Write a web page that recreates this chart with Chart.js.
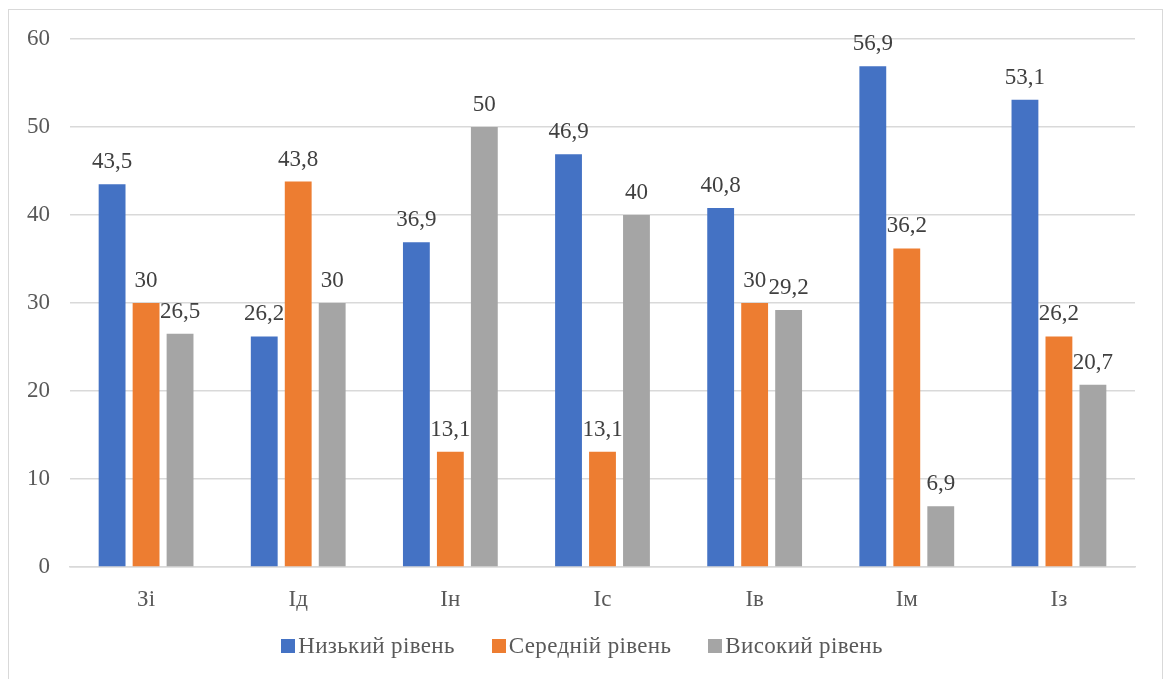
<!DOCTYPE html>
<html>
<head>
<meta charset="utf-8">
<script src="https://cdn.jsdelivr.net/npm/chart.js@4.4.1/dist/chart.umd.min.js"></script>
<style>
  html, body { margin: 0; padding: 0; background: #fff; overflow: hidden; }
  #frame {
    position: absolute; left: 8px; top: 9px; width: 1153px; height: 700px;
    border: 1.5px solid #d9d9d9;
  }
  #wrap { position: absolute; left: 0; top: 0; width: 1164px; height: 679px; }
  #legend {
    position: absolute; left: 0; top: 633px; width: 1164px;
    display: flex; justify-content: center; gap: 37px;
    font: 23px 'Liberation Serif', 'Times New Roman', serif; color: #595959;
    letter-spacing: 0.35px;
  }
  #legend .item { display: flex; align-items: center; }
  #legend .box { width: 14px; height: 14px; margin-right: 3px; }
</style>
</head>
<body>
<div id="frame"></div>
<div id="wrap"><canvas id="chart" width="1164" height="679"></canvas></div>
<div id="legend"></div>
<script>
// --- DATA ---
const categories = ['Зі', 'Ід', 'Ін', 'Іс', 'Ів', 'Ім', 'Із'];
const lowLevel = [43.5, 26.2, 36.9, 46.9, 40.8, 56.9, 53.1];
const midLevel = [30, 43.8, 13.1, 13.1, 30, 36.2, 26.2];
const highLevel = [26.5, 30, 50, 40, 29.2, 6.9, 20.7];
const seriesNames = ['Низький рівень', 'Середній рівень', 'Високий рівень'];
const seriesColors = ['#4472c4', '#ed7d31', '#a5a5a5'];
const yTicks = [0, 10, 20, 30, 40, 50, 60];

const FONT = "'Liberation Serif', 'Times New Roman', serif";

// Draw value labels above each bar (decimal comma, like the original)
const valueLabels = {
    id: 'valueLabels',
    afterDatasetsDraw(chart) {
        const ctx = chart.ctx;
        ctx.save();
        ctx.font = '23px ' + FONT;
        ctx.fillStyle = '#404040';
        ctx.textAlign = 'center';
        ctx.textBaseline = 'alphabetic';
        chart.data.datasets.forEach((ds, i) => {
            chart.getDatasetMeta(i).data.forEach((bar, j) => {
                const txt = String(ds.data[j]).replace('.', ',');
                ctx.fillText(txt, bar.x, bar.y - 16);
            });
        });
        ctx.restore();
    }
};

const chart = new Chart(document.getElementById('chart'), {
    type: 'bar',
    data: {
        labels: categories,
        datasets: [
            { label: seriesNames[0], data: lowLevel, backgroundColor: seriesColors[0] },
            { label: seriesNames[1], data: midLevel, backgroundColor: seriesColors[1] },
            { label: seriesNames[2], data: highLevel, backgroundColor: seriesColors[2] }
        ]
    },
    options: {
        responsive: false,
        animation: false,
        events: [],
        datasets: { bar: { categoryPercentage: 0.67, barPercentage: 0.79 } },
        layout: { padding: { top: 39, right: 29, bottom: 52, left: 0 } },
        plugins: {
            tooltip: { enabled: false },
            legend: { display: false }
        },
        scales: {
            x: {
                grid: { display: false, drawTicks: false },
                border: { display: true, color: '#d9d9d9', width: 1.5 },
                ticks: { color: '#595959', padding: 19, font: { family: FONT, size: 23 } },
                afterFit(scale) { scale.height = 60; }
            },
            y: {
                min: 0, max: 60,
                grid: { color: '#d9d9d9', lineWidth: 1.5, drawTicks: false },
                border: { display: false },
                afterBuildTicks(scale) { scale.ticks = yTicks.map(v => ({ value: v })); },
                ticks: { color: '#595959', padding: 20, font: { family: FONT, size: 23 } },
                afterFit(scale) { scale.width = 70; }
            }
        }
    },
    plugins: [valueLabels]
});

// HTML legend built from the datasets (tight box-to-text gap like the original)
const legendEl = document.getElementById('legend');
chart.data.datasets.forEach(ds => {
    legendEl.innerHTML += `<div class="item"><span class="box" style="background:${ds.backgroundColor}"></span><span>${ds.label}</span></div>`;
});
</script>
</body>
</html>
